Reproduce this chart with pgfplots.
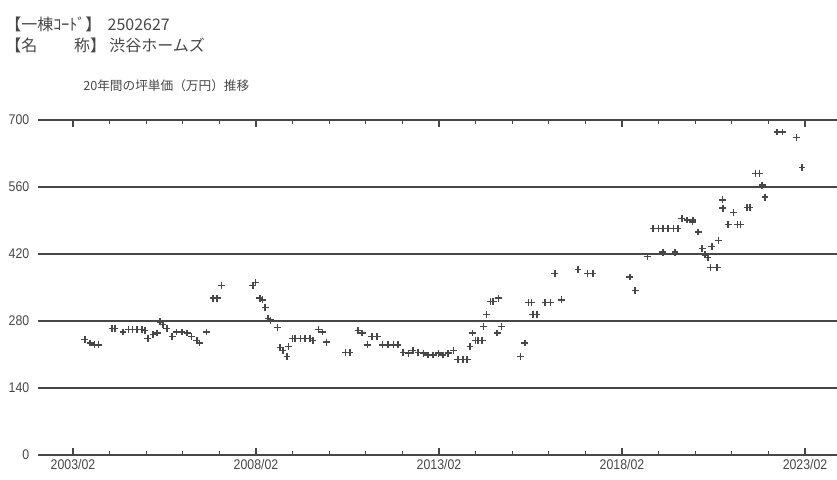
\documentclass[border=0pt]{standalone}
\usepackage{fontspec}
\usepackage{pgfplots}
\pgfplotsset{compat=1.18}
\setmainfont{Liberation Sans}
\newfontfamily\cjk{Noto Sans CJK JP}
\newfontfamily\tickfont[FakeStretch=0.88]{Liberation Sans}
\definecolor{ink}{gray}{0.28}
\pgfplotstableread{
x y
2003.41 242
2003.55 234
2003.68 230
2003.77 230
2004.15 265
2004.23 265
2004.45 257
2004.59 263
2004.70 263
2004.83 263
2004.97 263
2005.05 261
2005.13 244
2005.27 251
2005.38 255
2005.46 278
2005.54 272
2005.65 265
2005.79 247
2005.92 257
2006.06 257
2006.20 255
2006.33 247
2006.47 240
2006.55 234
2006.74 257
2006.91 328
2007.02 328
2007.15 355
2008.00 355
2008.06 361
2008.19 328
2008.25 324
2008.33 309
2008.41 286
2008.47 282
2008.68 267
2008.74 224
2008.82 219
2008.93 205
2008.96 226
2009.07 244
2009.15 244
2009.29 244
2009.42 244
2009.56 244
2009.64 240
2009.78 263
2009.89 257
2010.02 236
2010.52 215
2010.65 215
2010.87 261
2010.98 255
2011.12 230
2011.25 247
2011.39 247
2011.55 230
2011.69 230
2011.83 230
2011.96 230
2012.10 215
2012.24 213
2012.37 219
2012.51 215
2012.65 213
2012.78 209
2012.92 209
2013.06 213
2013.19 209
2013.33 213
2013.47 219
2013.60 199
2013.74 199
2013.85 199
2013.93 226
2013.99 255
2014.07 240
2014.15 240
2014.26 240
2014.29 268
2014.39 293
2014.48 320
2014.56 320
2014.67 255
2014.70 328
2014.80 268
2015.30 205
2015.43 234
2015.52 318
2015.62 318
2015.65 293
2015.76 293
2015.98 318
2016.12 318
2016.25 380
2016.44 324
2016.88 387
2017.15 380
2017.29 380
2018.30 372
2018.44 343
2018.77 414
2018.93 474
2019.07 474
2019.20 474
2019.34 474
2019.48 474
2019.61 474
2019.20 424
2019.53 424
2019.72 495
2019.86 491
2020.00 487
2020.02 491
2020.16 466
2020.27 432
2020.35 418
2020.43 412
2020.49 391
2020.68 391
2020.54 435
2020.71 449
2020.82 533
2020.84 516
2020.98 481
2021.12 506
2021.23 481
2021.31 481
2021.50 518
2021.58 518
2021.72 589
2021.85 589
2021.91 564
2021.99 539
2022.32 675
2022.46 675
2022.86 664
2023.00 600
}\pricedata
\begin{document}
\begin{tikzpicture}
\useasboundingbox (0,0) rectangle (627.75pt,359.25pt);
\node[anchor=west, inner sep=0pt, text=ink] at (3.75pt,341.25pt) {\cjk\fontsize{12}{14}\selectfont 【一棟ｺｰﾄﾞ】\hspace{0.4em}2502627};
\node[anchor=west, inner sep=0pt, text=ink] at (3.75pt,325.5pt) {\cjk\fontsize{12}{14}\selectfont 【名\hspace{2.3em}称】\hspace{0.2em}渋谷ホームズ};
\node[anchor=west, inner sep=0pt, text=ink] at (62.25pt,294.75pt) {\cjk\fontsize{9.5}{11}\selectfont 20年間の坪単価（万円）推移};
\begin{axis}[
  at={(28.5pt,18pt)}, anchor=south west,
  scale only axis, width=599.25pt, height=251.25pt,
  xmin=2002.127, xmax=2023.957, ymin=0, ymax=700,
  separate axis lines,
  y axis line style={draw=none},
  x axis line style={ink, line width=1.4pt},
  ytick={0,140,280,420,560,700},
  ymajorgrids, grid style={ink, line width=1.4pt},
  ytick style={draw=none},
  xtick={2003.083,2008.083,2013.083,2018.083,2023.083},
  xticklabels={2003/02,2008/02,2013/02,2018/02,2023/02},
  minor xtick={2004.083,2005.083,2006.083,2007.083,2009.083,2010.083,2011.083,2012.083,2014.083,2015.083,2016.083,2017.083,2019.083,2020.083,2021.083,2022.083},
  tick align=inside,
  major tick length=5.25pt, minor tick length=3pt,
  xtick style={ink, line width=0.9pt},
  /pgf/number format/assume math mode=true,
  tick label style={font=\tickfont\fontsize{10.5}{12}\selectfont, text=ink},
  yticklabel style={xshift=-3pt},
  clip=false,
]
\addplot[only marks, mark=+, mark size=2.6pt, ink, mark options={line width=0.9pt}] table[x=x, y=y] {\pricedata};
\end{axis}
\end{tikzpicture}
\end{document}
